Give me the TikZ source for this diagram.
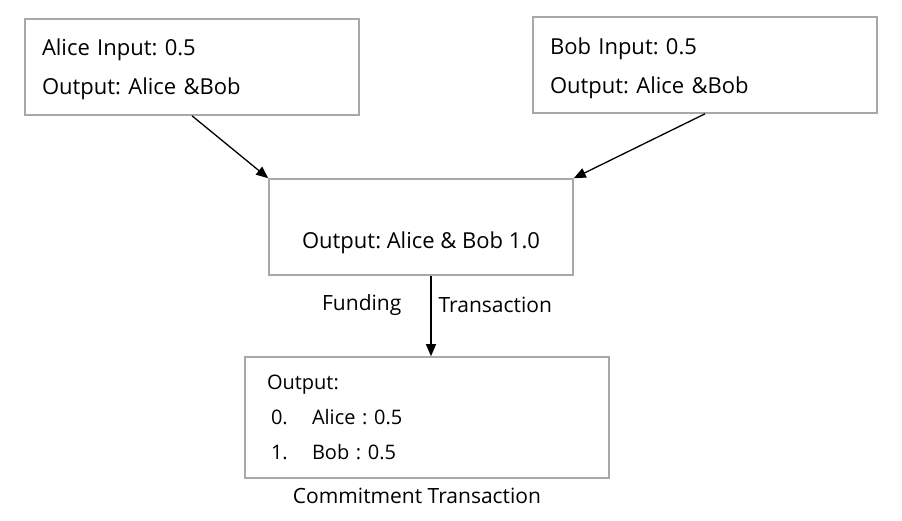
\documentclass[tikz,border=0pt]{standalone}
\usepackage{fontspec}
\setmainfont{Open Sans}
\usepackage{xcolor}
\usetikzlibrary{positioning,calc,arrows.meta}
\definecolor{boxgray}{RGB}{168,168,168}
\frenchspacing
\tikzset{
    txbox/.style={draw=boxgray, line width=1.6pt, rectangle, align=left,
        font=\fontsize{22}{39}\selectfont, inner ysep=0pt},
    arr/.style={line width=1.3pt, -{Triangle[length=12pt,width=10pt]}},
    lbl/.style={font=\fontsize{21}{25}\selectfont, inner sep=0pt}
}

\begin{document}
\begin{tikzpicture}[x=1pt,y=-1pt]
    \useasboundingbox (0,0) rectangle (902,520);

    \node[txbox, minimum width=334pt, minimum height=96pt, inner xsep=17pt, text width=300pt] (alice) at (192,67)
        {\mbox{}\\[-17pt]Alice Input: 0.5\\Output: Alice \&Bob};
    \node[txbox, minimum width=344pt, minimum height=96pt, inner xsep=17pt, text width=310pt] (bob) at (705,65)
        {\mbox{}\\[-15pt]Bob Input: 0.5\\Output: Alice \&Bob};
    \node[txbox, align=center, minimum width=304pt, minimum height=96pt] (fund) at (421,227)
        {\mbox{}\\[10pt]Output: Alice \& Bob 1.0};
    \node[txbox, minimum width=364pt, minimum height=121pt, inner xsep=22pt, text width=320pt,
        font=\fontsize{20}{35}\selectfont] (commit) at (427,417.5)
        {Output:\\\hspace*{4pt}\makebox[41pt][l]{0.}Alice : 0.5\\\hspace*{4pt}\makebox[41pt][l]{1.}Bob : 0.5};

    \draw[arr] (alice.south) -- (fund.north west);
    \draw[arr] (bob.south) -- (fund.north east);
    \draw[arr] ([xshift=10pt]fund.south) -- ([xshift=10pt]fund.south |- commit.north)
        node[lbl, pos=0.36, left=29pt] (fundlbl) {Funding}
        node[lbl, pos=0.36, right=7pt] (txlbl) {Transaction};

    \node[lbl, below=9pt of commit.south, xshift=-10pt] (commitlbl) {Commitment Transaction};
\end{tikzpicture}
\end{document}
